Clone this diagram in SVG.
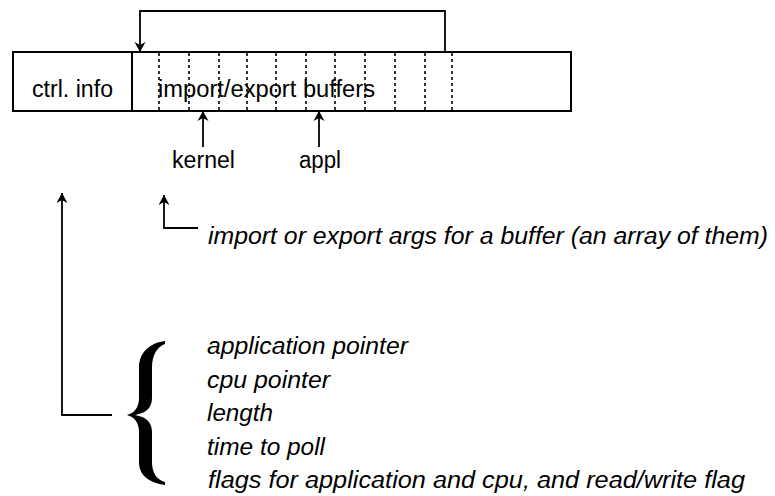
<svg xmlns="http://www.w3.org/2000/svg" width="775" height="496" viewBox="0 0 775 496">
  <style>
    .txt { font-family: "Liberation Sans", Arial, sans-serif; fill: #000; }
    .up { font-size: 23.5px; }
    .it { font-size: 24.5px; font-style: italic; }
    .edge { fill: none; stroke: #000; stroke-width: 1.8; }
    .box { fill: #fff; stroke: #000; stroke-width: 2; }
    .slot { stroke: #000; stroke-width: 1.6; stroke-dasharray: 3 3; }
  </style>
  <defs>
    <marker id="arrow" viewBox="0 0 10 14" refX="10" refY="7" markerWidth="10" markerHeight="14" markerUnits="userSpaceOnUse" orient="auto">
      <path d="M0,1.5 L10,7 L0,12.5 L3,7 Z" fill="#000"/>
    </marker>
  </defs>

  <rect width="775" height="496" fill="#fff"/>

  <!-- shared segment: control info followed by the buffer slots -->
  <g id="segment">
    <rect class="box" x="13" y="52" width="558" height="59"/>
    <g id="ctrl-info">
      <line x1="132" y1="52" x2="132" y2="111" stroke="#000" stroke-width="2"/>
      <text class="txt up" x="32" y="97" textLength="81" lengthAdjust="spacingAndGlyphs">ctrl. info</text>
    </g>
    <g id="buffers">
      <line class="slot" x1="159" y1="53" x2="159" y2="110"/>
      <line class="slot" x1="189" y1="53" x2="189" y2="110"/>
      <line class="slot" x1="219" y1="53" x2="219" y2="110"/>
      <line class="slot" x1="247" y1="53" x2="247" y2="110"/>
      <line class="slot" x1="276" y1="53" x2="276" y2="110"/>
      <line class="slot" x1="306" y1="53" x2="306" y2="110"/>
      <line class="slot" x1="335" y1="53" x2="335" y2="110"/>
      <line class="slot" x1="365" y1="53" x2="365" y2="110"/>
      <line class="slot" x1="395" y1="53" x2="395" y2="110"/>
      <line class="slot" x1="425" y1="53" x2="425" y2="110"/>
      <line class="slot" x1="452" y1="53" x2="452" y2="110"/>
      <text class="txt up" x="158" y="97" textLength="217" lengthAdjust="spacingAndGlyphs">import/export buffers</text>
    </g>
  </g>

  <g id="kernel">
    <text class="txt up" x="172" y="168" textLength="63" lengthAdjust="spacingAndGlyphs">kernel</text>
  </g>
  <g id="appl">
    <text class="txt up" x="299" y="168" textLength="42" lengthAdjust="spacingAndGlyphs">appl</text>
  </g>

  <g id="buffer-args">
    <text class="txt it" x="208" y="244" textLength="560" lengthAdjust="spacingAndGlyphs">import or export args for a buffer (an array of them)</text>
  </g>

  <g id="ctrl-fields">
    <!-- curly brace grouping the fields -->
    <path fill="#000" d="M165,341 C150,343 139,352 139,368 L139,398 C139,408 134,413 127,415 C134,417 139,422 139,432 L139,462 C139,476 150,483 165,485 L165,482 C157,480 152,473 152,462 L152,432 C152,422 146,417 135,415 C146,413 152,408 152,398 L152,368 C152,355 157,347 165,344 Z"/>
    <text class="txt it" x="207" y="354" textLength="201" lengthAdjust="spacingAndGlyphs">application pointer</text>
    <text class="txt it" x="207" y="388" textLength="123" lengthAdjust="spacingAndGlyphs">cpu pointer</text>
    <text class="txt it" x="207" y="421" textLength="66" lengthAdjust="spacingAndGlyphs">length</text>
    <text class="txt it" x="207" y="455" textLength="118" lengthAdjust="spacingAndGlyphs">time to poll</text>
    <text class="txt it" x="208" y="488" textLength="537" lengthAdjust="spacingAndGlyphs">flags for application and cpu, and read/write flag</text>
  </g>

  <g id="connectors">
    <!-- wrap-around from the last slot back to the first -->
    <path class="edge" d="M445,52 L445,11 L140,11 L140,52" marker-end="url(#arrow)"/>
    <!-- kernel and application positions -->
    <path class="edge" d="M203,147 L203,111" marker-end="url(#arrow)"/>
    <path class="edge" d="M319,147 L319,111" marker-end="url(#arrow)"/>
    <!-- per-buffer args point at the buffer area -->
    <path class="edge" d="M198,228 L164,228 L164,195" marker-end="url(#arrow)"/>
    <!-- control fields point at ctrl. info -->
    <path class="edge" d="M112,415 L62,415 L62,193" marker-end="url(#arrow)"/>
  </g>
</svg>
